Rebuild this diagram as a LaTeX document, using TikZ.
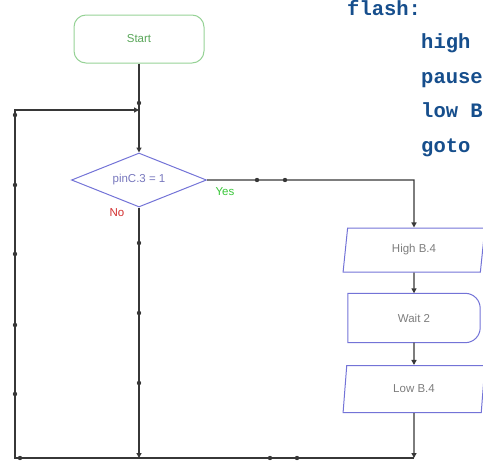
\documentclass[tikz,border=0pt]{standalone}
\usepackage{fontspec}
\setmainfont{Liberation Sans}
\newfontfamily\codefont{Liberation Mono}
\usetikzlibrary{shapes.geometric,arrows.meta}
\definecolor{codeblue}{RGB}{22,78,140}
\definecolor{shapeblue}{RGB}{115,115,215}
\definecolor{startgreen}{RGB}{150,210,150}
\definecolor{linegray}{RGB}{55,55,55}
\definecolor{txtgray}{RGB}{125,125,125}
\begin{document}
\begin{tikzpicture}[x=1pt,y=-1pt,
  conn/.style={draw=linegray,line width=1.4pt},
  tip/.style={-{Triangle[length=5pt,width=5pt]}},
  lbl/.style={font=\fontsize{11.5}{12}\selectfont,text=txtgray},
  shp/.style={draw=shapeblue,line width=1pt,inner sep=0pt},
  pio/.style={shp,trapezium,trapezium left angle=82,trapezium right angle=98,trapezium stretches=true,minimum width=142pt},
  code/.style={font=\codefont\bfseries\fontsize{20.5}{20.5}\selectfont,text=codeblue,anchor=base west,inner sep=0pt},
  dot/.style={fill=linegray}]
\useasboundingbox (0,0) rectangle (483,461);
\clip (0,0) rectangle (483,461);
% code text
\node[code] (c0) at (347,15) {flash:};
\node[code] (c1) at (421,48) {high};
\node[code] (c2) at (421,83) {pause};
\node[code] (c3) at (421,117) {low B};
\node[code] (c4) at (421,152) {goto};
% shapes
\node[draw=startgreen,line width=1pt,rounded corners=12pt,minimum width=130pt,minimum height=48pt,lbl,text=green!30!gray] (start) at (139,39) {Start};
\node[shp,diamond,aspect=2.5,minimum width=135pt,minimum height=54pt,lbl,text=shapeblue!70!gray] (dec) at (139,180) {pinC.3 = 1};
\node[lbl,text=green!55!gray] (yes) at (225,192) {Yes};
\node[lbl,text=red!65!gray] (no) at (117,213) {No};
\node[pio,minimum height=44pt,lbl] (high) at (414,250) {High B.4};
\node[lbl,minimum width=132pt,minimum height=49pt,inner sep=0pt] (wait) at (414,318) {Wait 2};
\draw[shp] (wait.north west) -- ([xshift=-15pt]wait.north east)
  arc[start angle=90,end angle=0,radius=15pt] -- ([yshift=15pt]wait.south east)
  arc[start angle=0,end angle=-90,radius=15pt] -- (wait.south west) -- cycle;
\node[pio,minimum height=47pt,lbl] (low) at (414,389) {Low B.4};
% junction coordinates
\coordinate (jn) at (139,110);
\coordinate (lt) at (15,110);
\coordinate (lb) at (15,458);
\coordinate (bn) at (139,458);
\coordinate (br) at (414,458);
\coordinate (yr) at (414,180);
% connectors
\draw[conn,tip] (start.south) -- (dec.north);
\draw[conn,tip] (dec.east) -- (yr) -- (high.north);
\draw[conn,tip] (high.south) -- (wait.north);
\draw[conn,tip] (wait.south) -- (low.north);
\draw[conn,tip] (low.south) -- (br);
\draw[conn,tip] (dec.south) -- (bn);
\draw[conn,tip] (br) -- (lb) -- (lt) -- (jn);
% dots
\foreach \p in {(139,103),(257,180),(285,180),(139,243),(139,313),(139,383),
  (15,115),(15,185),(15,254),(15,325),(15,394),(20,458),(270,458),(297,458)}
  \fill[dot] \p circle (2.2pt);
\end{tikzpicture}
\end{document}
